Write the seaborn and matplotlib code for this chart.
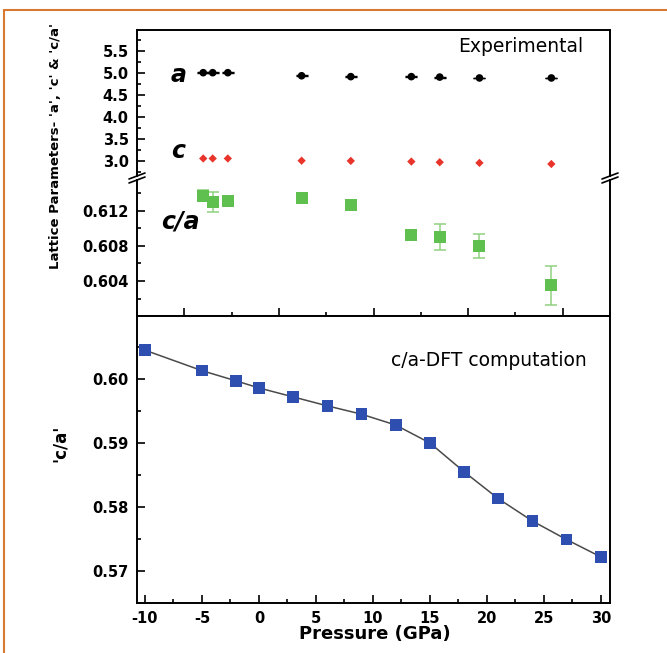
import matplotlib
matplotlib.use("Agg")
import numpy as np
import pandas as pd
import matplotlib.pyplot as plt
import seaborn as sns
from matplotlib.lines import Line2D
from matplotlib.ticker import MultipleLocator, FormatStrFormatter

# Experimental lattice parameters vs pressure
exp_pressure = [6.0, 6.5, 7.3, 11.2, 13.8, 17.0, 18.5, 20.6, 24.4]
a_exp = [5.00, 5.00, 5.00, 4.93, 4.91, 4.91, 4.90, 4.88, 4.88]
c_exp = [3.05, 3.05, 3.05, 3.00, 2.995, 2.98, 2.965, 2.95, 2.925]
ca_exp = [0.6137, 0.6130, 0.6131, 0.6134, 0.6126, 0.6092, 0.6090, 0.6080, 0.6035]
ca_err = [0.0006, 0.0011, 0.0003, 0.0004, 0.0003, 0.0002, 0.0015, 0.0014, 0.0022]

# DFT c/a ratio vs pressure
dft_pressure = [-10, -5, -2, 0, 3, 6, 9, 12, 15, 18, 21, 24, 27, 30]
ca_dft = [0.6045, 0.6013, 0.5997, 0.5986, 0.5972, 0.5958, 0.5945, 0.5928,
          0.5900, 0.5855, 0.5813, 0.5778, 0.5749, 0.5722]

exp_df = pd.DataFrame({"P": exp_pressure, "a": a_exp, "c": c_exp,
                       "ca": ca_exp, "err": ca_err})
dft_df = pd.DataFrame({"P": dft_pressure, "ca": ca_dft})

sns.set_theme(style="white")
plt.rcParams["font.family"] = ["DejaVu Sans"]
plt.rcParams["axes.unicode_minus"] = False
for key in ("text.color", "axes.labelcolor", "xtick.color", "ytick.color"):
    plt.rcParams[key] = "black"

W_PX, H_PX = 667, 653
fig = plt.figure(figsize=(W_PX / 100, H_PX / 100), dpi=100)


def box(left, top, right, bottom):
    return [left / W_PX, 1 - bottom / H_PX, (right - left) / W_PX, (bottom - top) / H_PX]


def fx(x):
    return x / W_PX


def fy(y):
    return 1 - y / H_PX


ax_up = fig.add_axes(box(137, 30, 610, 176))
ax_mid = fig.add_axes(box(137, 180, 610, 316))
ax_bot = fig.add_axes(box(137, 316, 610, 603))

for ax in (ax_up, ax_mid, ax_bot):
    ax.set_facecolor("white")
    for s in ax.spines.values():
        s.set_color("black")
        s.set_linewidth(1.4)
    ax.tick_params(which="both", direction="in", color="black", width=1.2,
                   labelsize=10.5, labelcolor="black")
    ax.tick_params(which="major", length=6)
    ax.tick_params(which="minor", length=3)

# ---- upper panel: a and c
ax_up.spines["bottom"].set_visible(False)
ax_up.errorbar(exp_df["P"], exp_df["a"], yerr=0.01, fmt="none",
               ecolor="black", elinewidth=1, capsize=4, zorder=2)
sns.scatterplot(data=exp_df, x="P", y="a", ax=ax_up, marker="o", s=30,
                color="black", edgecolor="none", zorder=3)
sns.scatterplot(data=exp_df, x="P", y="c", ax=ax_up, marker="D", s=18,
                color="#e8342a", edgecolor="none", zorder=3)
ax_up.set_xlim(2.5, 27.5)
ax_up.set_ylim(2.652, 5.97)
ax_up.set_xticks([])
ax_up.yaxis.set_major_locator(MultipleLocator(0.5))
ax_up.yaxis.set_minor_locator(MultipleLocator(0.25))
ax_up.yaxis.set_major_formatter(FormatStrFormatter("%.1f"))
ax_up.tick_params(axis="y", which="both", left=True, right=False, pad=6)
ax_up.set_xlabel("")
ax_up.set_ylabel("")

# ---- middle panel: experimental c/a
ax_mid.spines["top"].set_visible(False)
ax_mid.errorbar(exp_df["P"], exp_df["ca"], yerr=exp_df["err"], fmt="none",
                ecolor="#8fd27f", elinewidth=1.1, capsize=4, capthick=1.1,
                zorder=2)
sns.scatterplot(data=exp_df, x="P", y="ca", ax=ax_mid, marker="s", s=75,
                color="#5fc04f", edgecolor="none", zorder=3)
ax_mid.set_xlim(2.5, 27.5)
ax_mid.set_ylim(0.60003, 0.61549)
ax_mid.xaxis.set_major_locator(MultipleLocator(5))
ax_mid.xaxis.set_minor_locator(MultipleLocator(2.5))
ax_mid.yaxis.set_major_locator(MultipleLocator(0.004))
ax_mid.yaxis.set_minor_locator(MultipleLocator(0.002))
ax_mid.yaxis.set_major_formatter(FormatStrFormatter("%.3f"))
ax_mid.tick_params(axis="x", which="both", bottom=True, top=False,
                   labelbottom=False)
ax_mid.tick_params(axis="y", which="both", left=True, right=False, pad=6)
ax_mid.set_xlabel("")
ax_mid.set_ylabel("")

# ---- lower panel: DFT c/a
sns.lineplot(data=dft_df, x="P", y="ca", ax=ax_bot, color="#4a4a4a",
             linewidth=1.1, zorder=2)
sns.scatterplot(data=dft_df, x="P", y="ca", ax=ax_bot, marker="s", s=70,
                color="#2f4fb0", edgecolor="none", zorder=3)
ax_bot.set_xlim(-10.7, 30.8)
ax_bot.set_ylim(0.565, 0.60984)
ax_bot.xaxis.set_major_locator(MultipleLocator(5))
ax_bot.xaxis.set_minor_locator(MultipleLocator(2.5))
ax_bot.yaxis.set_major_locator(MultipleLocator(0.01))
ax_bot.yaxis.set_minor_locator(MultipleLocator(0.005))
ax_bot.yaxis.set_major_formatter(FormatStrFormatter("%.2f"))
ax_bot.xaxis.set_major_formatter(FormatStrFormatter("%d"))
ax_bot.tick_params(axis="x", which="both", bottom=True, top=False, pad=6)
ax_bot.tick_params(axis="y", which="both", left=True, right=False, pad=6)
ax_bot.set_xlabel("")
ax_bot.set_ylabel("")

for ax in (ax_up, ax_mid, ax_bot):
    for lab in ax.get_yticklabels() + ax.get_xticklabels():
        lab.set_fontweight("bold")

# axis-break marks on both spines
for xs in (137, 610):
    for ys in (176, 180):
        fig.add_artist(Line2D([fx(xs - 8), fx(xs + 8)], [fy(ys + 3), fy(ys - 3)],
                              transform=fig.transFigure, color="black", lw=1.2))

# panel annotations
fig.text(fx(521), fy(47), "Experimental", ha="center", va="center", fontsize=13.5)
fig.text(fx(489), fy(361), "c/a-DFT computation", ha="center", va="center",
         fontsize=13.5)
for label, (x, y) in {"a": (179, 75), "c": (178, 151), "c/a": (180, 222)}.items():
    fig.text(fx(x), fy(y), label, ha="center", va="center", fontsize=17,
             fontweight="bold", fontstyle="italic")

fig.text(fx(56), fy(146), "Lattice Parameters- 'a', 'c' & 'c/a'", rotation=90,
         ha="center", va="center", fontsize=9.5, fontweight="bold")
fig.text(fx(60), fy(443), "'c/a'", rotation=90, ha="center", va="center",
         fontsize=12, fontweight="bold")
fig.text(fx(375), fy(634), "Pressure (GPa)", ha="center", va="center",
         fontsize=13, fontweight="bold")

# outer frame lines
frame_col = "#d9782f"
fig.add_artist(Line2D([fx(4), 1.0], [fy(10), fy(10)], transform=fig.transFigure,
                      color=frame_col, lw=1.5))
fig.add_artist(Line2D([fx(4), fx(4)], [0.0, fy(10)], transform=fig.transFigure,
                      color=frame_col, lw=1.5))

fig.savefig("out.png", dpi=100, facecolor="white")
